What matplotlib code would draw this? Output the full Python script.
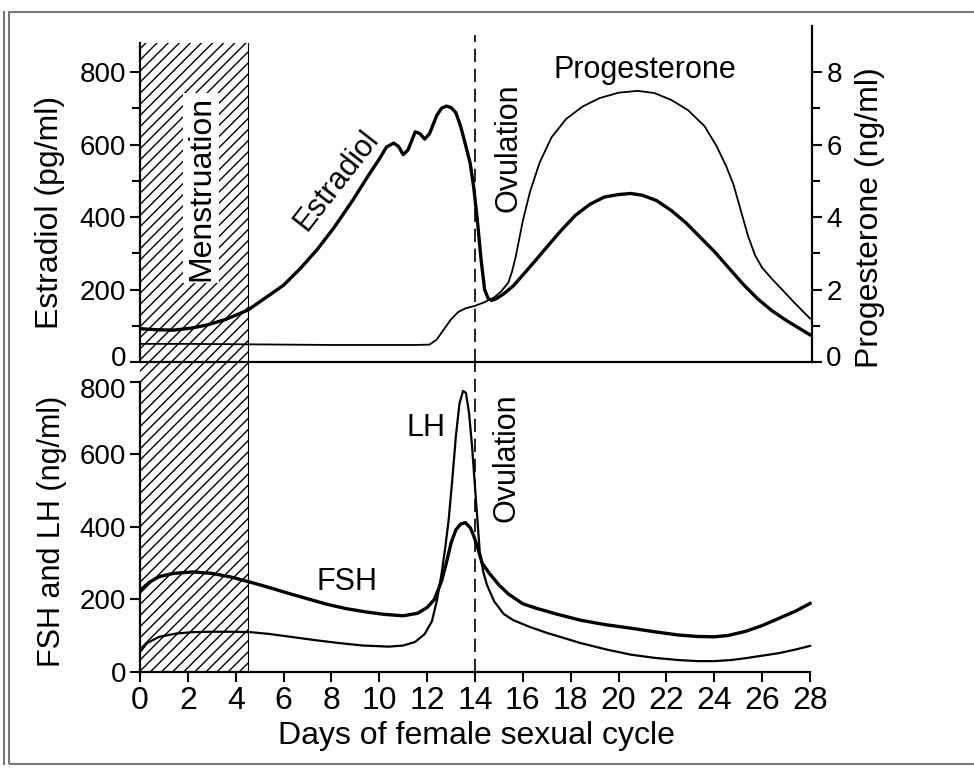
import matplotlib
matplotlib.use('Agg')
import matplotlib.pyplot as plt
import matplotlib.transforms as mtransforms
from matplotlib.patches import Rectangle
from matplotlib.lines import Line2D

# --- data ---
estradiol_days = [0, 0.7, 1.4, 2.1, 2.8, 3.6, 4.5, 5.2, 6.0, 6.7, 7.4, 8.1, 8.9, 9.5, 10.0, 10.3,
                  10.6, 10.8, 11.0, 11.2, 11.5, 11.7, 11.9, 12.1, 12.4, 12.6, 12.8, 13.0, 13.2,
                  13.4, 13.6, 13.8, 13.95, 14.1, 14.25, 14.4, 14.55, 14.7, 14.9, 15.2, 15.6, 16.0,
                  16.5, 17.0, 17.6, 18.2, 18.8, 19.4, 20.0, 20.5, 21.0, 21.6, 22.2, 22.8, 23.4,
                  24.0, 24.6, 25.2, 25.8, 26.4, 27.0, 27.5, 28.0]
estradiol = [92, 89, 88, 93, 102, 118, 143, 175, 212, 258, 310, 370, 447, 510, 560, 593,
             604, 595, 572, 585, 635, 630, 615, 630, 680, 700, 706, 702, 688,
             650, 600, 548, 480, 390, 285, 200, 175, 170, 175, 188, 210, 240,
             278, 317, 363, 405, 435, 455, 462, 465, 460, 445, 418, 385, 345,
             305, 260, 215, 175, 142, 115, 95, 75]

prog_days = [0, 2, 4, 6, 8, 10, 11.5, 12.1, 12.4, 12.7, 13.0, 13.3, 13.6, 14.0, 14.4, 14.8,
             15.1, 15.4, 15.55, 15.7, 16.0, 16.3, 16.7, 17.2, 17.8, 18.5, 19.2, 20.0, 20.8,
             21.5, 22.2, 22.9, 23.6, 24.1, 24.5, 24.8, 25.1, 25.4, 25.7, 26.0, 26.4, 26.9,
             27.4, 28.0]
progesterone = [0.5, 0.5, 0.49, 0.48, 0.47, 0.47, 0.47, 0.48, 0.62, 0.9, 1.18, 1.38, 1.48, 1.55,
                1.65, 1.78, 1.95, 2.2, 2.5, 2.9, 3.9, 4.7, 5.5, 6.2, 6.7, 7.05, 7.28, 7.43, 7.48,
                7.42, 7.23, 6.95, 6.5, 5.95, 5.4, 4.9, 4.2, 3.5, 2.95, 2.6, 2.3, 1.95,
                1.6, 1.2]

fsh_days = [0, 0.4, 0.8, 1.4, 2.2, 3.0, 3.8, 4.6, 5.4, 6.2, 7.0, 7.8, 8.6, 9.4, 10.2, 11.0,
            11.6, 12.0, 12.3, 12.6, 12.8, 13.0, 13.2, 13.4, 13.6, 13.8, 13.95, 14.1, 14.3,
            14.6, 15.0, 15.4, 16.0, 16.6, 17.4, 18.4, 19.4, 20.5, 21.5, 22.5, 23.3, 24.0,
            24.6, 25.3, 26.0, 26.7, 27.4, 28.0]
fsh = [225, 248, 263, 272, 276, 272, 262, 248, 233, 217, 202, 187, 175, 166, 159, 155,
       162, 178, 200, 250, 300, 356, 392, 408, 412, 398, 375, 345, 300,
       272, 240, 215, 188, 175, 160, 143, 131, 121, 111, 102, 98, 97,
       101, 112, 128, 148, 168, 189]

lh_days = [0, 0.3, 0.8, 1.5, 2.2, 3.0, 3.8, 4.6, 5.4, 6.3, 7.3, 8.3, 9.3, 10.4, 11.0, 11.5,
           11.9, 12.2, 12.4, 12.6, 12.75, 12.9, 13.05, 13.2, 13.35, 13.5, 13.62, 13.75, 13.88,
           14.0, 14.1, 14.2, 14.35, 14.5, 14.8, 15.2, 15.6, 16.3, 17.0, 18.4, 19.5, 20.5,
           21.5, 22.5, 23.3, 24.0, 24.7, 25.3, 26.0, 26.7, 27.4, 28.0]
lh = [55, 80, 97, 106, 110, 111, 111, 110, 105, 97, 88, 80, 73, 70, 73, 83,
      105, 140, 195, 270, 340, 420, 530, 650, 740, 775, 770, 715, 620,
      510, 420, 330, 275, 240, 195, 160, 143, 124, 108, 80, 62, 48,
      39, 33, 30, 30, 33, 38, 45, 52, 62, 72]

day_ticks = list(range(0, 29, 2))
left_top_ticks = [0, 200, 400, 600, 800]
right_ticks = [0, 2, 4, 6, 8]
bottom_ticks = [0, 200, 400, 600, 800]

plt.rcParams['font.family'] = ['Liberation Sans', 'DejaVu Sans']
plt.rcParams['hatch.linewidth'] = 1.0

W, H = 974, 768
fig = plt.figure(figsize=(W / 100, H / 100), dpi=100)


def px_box(x0, y0, x1, y1):
    return [x0 / W, 1 - y1 / H, (x1 - x0) / W, (y1 - y0) / H]


ax_top = fig.add_axes(px_box(140, 26, 812.4, 362))
ax_bot = fig.add_axes(px_box(140, 362, 812.4, 672))
ax_r = ax_top.twinx()

for ax in (ax_top, ax_bot, ax_r):
    ax.set_xlim(0, 28.1)
    ax.patch.set_visible(False)
    for s in ax.spines.values():
        s.set_linewidth(1.6)
    ax.tick_params(which='both', direction='out', width=1.5, labelsize=20, pad=3)
    ax.tick_params(which='major', length=7)
    ax.tick_params(which='minor', length=6)

# top panel
ax_top.set_ylim(0, 927)
ax_r.set_ylim(0, 9.27)
ax_top.spines['top'].set_visible(False)
ax_top.spines['right'].set_visible(False)
ax_top.spines['left'].set_bounds(0, 880)
ax_r.spines['top'].set_visible(False)
ax_r.spines['left'].set_visible(False)
ax_r.spines['bottom'].set_visible(False)
ax_top.set_xticks([])
ax_r.set_xticks([])
ax_top.set_yticks(left_top_ticks)
ax_top.set_yticks([100, 300, 500, 700], minor=True)
ax_r.set_yticks(right_ticks)
ax_r.set_yticks([1, 3, 5, 7], minor=True)

ax_top.axvspan(0, 4.5, ymax=880 / 927, facecolor='none', edgecolor='black', hatch='///', lw=0, zorder=0)
ax_top.axvline(4.5, ymax=880 / 927, color='black', lw=0.8)
ax_top.axvline(14, ymax=902 / 927, color='black', lw=1.2, ls=(0, (8, 4)))

ax_top.plot(estradiol_days, estradiol, color='black', lw=2.4, solid_joinstyle='round')
ax_r.plot(prog_days, progesterone, color='black', lw=1.3, solid_joinstyle='round')

ax_top.text(2.55, 480, 'Menstruation', rotation=90, ha='center', va='center', fontsize=23,
            bbox=dict(facecolor='white', edgecolor='none', pad=2))
ax_top.text(8.23, 502, 'Estradiol', rotation=52, ha='center', va='center', fontsize=22)
ax_top.text(15.38, 590, 'Ovulation', rotation=90, ha='center', va='center', fontsize=22)
ax_top.text(21.1, 805, 'Progesterone', ha='center', va='center', fontsize=22)

ax_top.text(-0.134, 0.446, 'Estradiol (pg/ml)', rotation=90, ha='center', va='center',
            fontsize=23, transform=ax_top.transAxes)
ax_top.text(1.086, 0.43, 'Progesterone (ng/ml)', rotation=90, ha='center', va='center',
            fontsize=23, transform=ax_top.transAxes)

# bottom panel
ax_bot.set_ylim(0, 855)
ax_bot.spines['top'].set_visible(False)
ax_bot.spines['right'].set_visible(False)
ax_bot.spines['left'].set_bounds(0, 800)
ax_bot.spines['bottom'].set_bounds(0, 28)
ax_bot.set_xticks(day_ticks)
ax_bot.set_yticks(bottom_ticks)
ax_bot.tick_params(axis='x', labelsize=23)

ax_bot.axvspan(0, 4.5, facecolor='none', edgecolor='black', hatch='///', lw=0, zorder=0)
ax_bot.axvline(4.5, color='black', lw=0.8)
ax_bot.axvline(14, color='black', lw=1.2, ls=(0, (8, 4)))

ax_bot.plot(fsh_days, fsh, color='black', lw=2.4, solid_joinstyle='round')
ax_bot.plot(lh_days, lh, color='black', lw=1.6, solid_joinstyle='round')

ax_bot.text(15.33, 590, 'Ovulation', rotation=90, ha='center', va='center', fontsize=22)
ax_bot.text(11.95, 673, 'LH', ha='center', va='center', fontsize=22)
ax_bot.text(8.65, 248, 'FSH', ha='center', va='center', fontsize=22)

ax_bot.text(-0.131, 0.455, 'FSH and LH (ng/ml)', rotation=90, ha='center', va='center',
            fontsize=22, transform=ax_bot.transAxes)
ax_bot.text(0.5, -0.205, 'Days of female sexual cycle', ha='center', va='center',
            fontsize=23, transform=ax_bot.transAxes)

# the top "0" and bottom "800" sit right on top of each other; push them apart a little
up = mtransforms.ScaledTranslation(0, 6 / 100, fig.dpi_scale_trans)
down = mtransforms.ScaledTranslation(0, -6 / 100, fig.dpi_scale_trans)
for tick in (ax_top.yaxis.get_major_ticks()[0], ax_r.yaxis.get_major_ticks()[0]):
    tick.label1.set_transform(tick.label1.get_transform() + up)
    tick.label2.set_transform(tick.label2.get_transform() + up)
bot_tick = ax_bot.yaxis.get_major_ticks()[-1]
bot_tick.label1.set_transform(bot_tick.label1.get_transform() + down)

# picture frame
fig.add_artist(Rectangle((9 / W, 1 - 764 / H), 1000 / W, 752 / H, transform=fig.transFigure,
                         fill=False, edgecolor='#777777', lw=1.5))
fig.add_artist(Line2D([4 / W, 4 / W], [1 - 764 / H, 1 - 12 / H], transform=fig.transFigure,
                      color='#777777', lw=1.5))

fig.savefig('out.png', dpi=100, facecolor='white')
